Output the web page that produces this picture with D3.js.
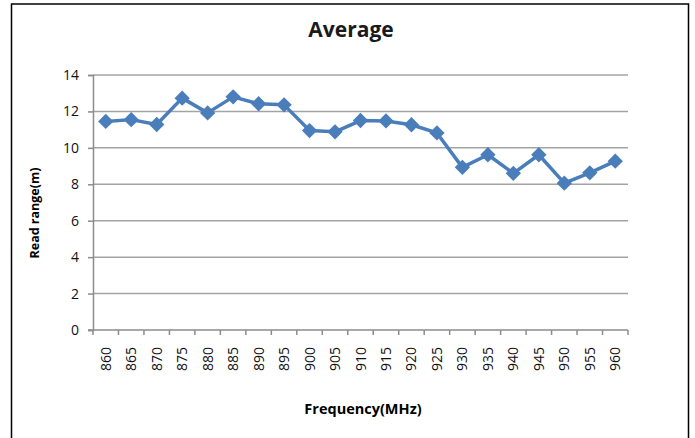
<!DOCTYPE html>
<html>
<head>
<meta charset="utf-8">
<script src="https://cdn.jsdelivr.net/npm/d3@7"></script>
<style>
  body { margin: 0; background: #fff; }
  svg { display: block; }
</style>
</head>
<body>
<div class="chart"></div>
<script>
/*data*/
var frequencies = ["860","865","870","875","880","885","890","895","900","905","910",
                   "915","920","925","930","935","940","945","950","955","960"];
var readRange = [11.45, 11.55, 11.28, 12.73, 11.92, 12.8, 12.42, 12.36, 10.95, 10.88, 11.5,
                 11.48, 11.27, 10.82, 8.93, 9.62, 8.6, 9.62, 8.06, 8.63, 9.27];
var yTicks = [0, 2, 4, 6, 8, 10, 12, 14];

/*dimensions*/
var width = 695, height = 438;
var margin = {top: 75, bottom: 108, left: 93, right: 67};
var plotW = width - margin.left - margin.right;
var plotH = height - margin.top - margin.bottom;

var svg = d3.select(".chart").append("svg")
  .attr("width", width)
  .attr("height", height);

/*outer frame, bottom edge is cut off*/
svg.append("path")
  .attr("d", "M11.5,440 L11.5,4 L688.5,4 L688.5,440")
  .attr("fill", "none")
  .attr("stroke", "#000")
  .attr("stroke-width", 1.5);

/*scales*/
var xScale = d3.scaleBand()
  .domain(frequencies)
  .range([0, plotW]);

var yScale = d3.scaleLinear()
  .domain([0, 14])
  .range([plotH, 0]);

var g = svg.append("g")
  .attr("transform", "translate(" + margin.left + "," + margin.top + ")");

/*grid*/
g.append("g")
  .attr("class", "grid")
  .selectAll("line")
  .data(yTicks.filter(function(d){ return d > 0; }))
  .enter().append("line")
  .attr("x1", 0)
  .attr("x2", plotW)
  .attr("y1", function(d){ return yScale(d); })
  .attr("y2", function(d){ return yScale(d); })
  .attr("stroke", "#a3a3a3")
  .attr("stroke-width", 1.5);

/*y axis*/
var yAxis = d3.axisLeft(yScale)
  .tickValues(yTicks)
  .tickSize(5)
  .tickPadding(9);

var yG = g.append("g").call(yAxis);
yG.select(".domain").attr("stroke", "#8c8c8c").attr("stroke-width", 1.5);
yG.selectAll(".tick line").attr("stroke", "#8c8c8c").attr("stroke-width", 1.5);
yG.selectAll(".tick text")
  .attr("fill", "#111")
  .style("font-family", "'Open Sans', sans-serif")
  .style("font-size", "14px");

/*x axis with ticks between the categories*/
var xG = g.append("g")
  .attr("transform", "translate(0," + plotH + ")");

xG.append("line")
  .attr("x1", -5).attr("x2", plotW)
  .attr("y1", 0).attr("y2", 0)
  .attr("stroke", "#8c8c8c")
  .attr("stroke-width", 1.5);

var bounds = frequencies.map(function(d){ return xScale(d); }).concat([plotW]);
xG.selectAll(".xtick")
  .data(bounds)
  .enter().append("line")
  .attr("class", "xtick")
  .attr("x1", function(d){ return d; })
  .attr("x2", function(d){ return d; })
  .attr("y1", 0).attr("y2", 5)
  .attr("stroke", "#8c8c8c")
  .attr("stroke-width", 1.5);

xG.selectAll(".xlabel")
  .data(frequencies)
  .enter().append("text")
  .attr("class", "xlabel")
  .attr("transform", function(d){
    return "translate(" + (xScale(d) + xScale.bandwidth() / 2 + 5) + ",17) rotate(-90)";
  })
  .attr("text-anchor", "end")
  .attr("fill", "#111")
  .style("font-family", "'Open Sans', sans-serif")
  .style("font-size", "14px")
  .text(function(d){ return d; });

/*line and markers*/
var line = d3.line()
  .x(function(d, i){ return xScale(frequencies[i]) + xScale.bandwidth() / 2; })
  .y(function(d){ return yScale(d); });

g.append("path")
  .datum(readRange)
  .attr("d", line)
  .attr("fill", "none")
  .attr("stroke", "#4a7ebb")
  .attr("stroke-width", 3.5)
  .attr("stroke-linejoin", "round");

var diamond = d3.symbol().type(d3.symbolDiamond2).size(150);
g.selectAll(".marker")
  .data(readRange)
  .enter().append("path")
  .attr("class", "marker")
  .attr("d", diamond)
  .attr("transform", function(d, i){
    return "translate(" + (xScale(frequencies[i]) + xScale.bandwidth() / 2) + "," + yScale(d) + ")";
  })
  .attr("fill", "#4a7ebb");

/*titles*/
svg.append("text")
  .attr("x", 351)
  .attr("y", 37)
  .attr("text-anchor", "middle")
  .attr("fill", "#1a1a1a")
  .style("font-family", "'Open Sans', sans-serif")
  .style("font-weight", "bold")
  .style("font-size", "21px")
  .text("Average");

svg.append("text")
  .attr("x", 363)
  .attr("y", 414)
  .attr("text-anchor", "middle")
  .attr("fill", "#000")
  .style("font-family", "'Open Sans', sans-serif")
  .style("font-weight", "bold")
  .style("font-size", "14.5px")
  .text("Frequency(MHz)");

svg.append("text")
  .attr("transform", "translate(39,213) rotate(-90)")
  .attr("text-anchor", "middle")
  .attr("fill", "#000")
  .style("font-family", "'Open Sans', sans-serif")
  .style("font-weight", "bold")
  .style("font-size", "12.5px")
  .text("Read range(m)");
</script>
</body>
</html>
